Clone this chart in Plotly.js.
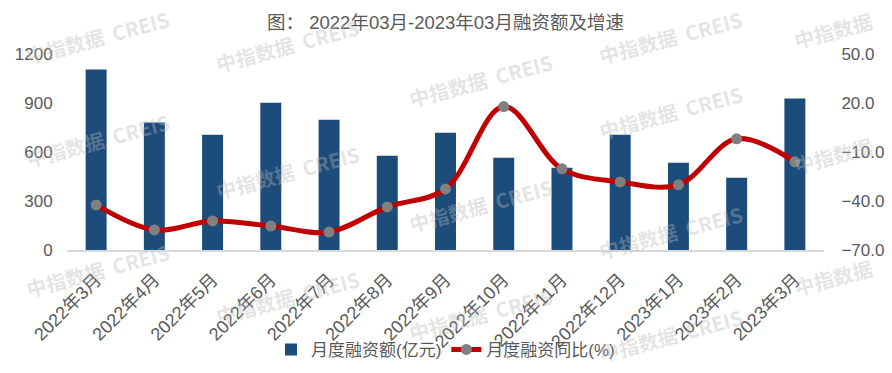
<!DOCTYPE html>
<html>
<head>
<meta charset="utf-8">
<script src="https://cdn.plot.ly/plotly-3.0.1.min.js"></script>
<style>
  html, body { margin: 0; padding: 0; background: #fff; }
  #chart { width: 892px; height: 373px; }
</style>
</head>
<body>
<div id="chart"></div>
<script>
const categories = ["2022年3月","2022年4月","2022年5月","2022年6月","2022年7月","2022年8月","2022年9月","2022年10月","2022年11月","2022年12月","2023年1月","2023年2月","2023年3月"];
const financingAmount = [1105, 780, 706, 902, 798, 577, 718, 565, 503, 706, 534, 442, 927];
const yoyGrowth = [-42.4, -57.7, -52.2, -55.3, -59.0, -43.6, -32.6, 17.8, -20.3, -28.3, -30.1, -1.9, -16.0];
const leftTicks = [0, 300, 600, 900, 1200];
const rightTicks = [-70, -40, -10, 20, 50];

const textColor = "#595959";
const fontFam = "Liberation Sans, Arial, Noto Sans CJK SC, sans-serif";

// background watermark (container pixel centres)
const watermarkFull = "中指数据  CREIS";
const watermarkShort = "中指数据";
const watermarkSpots = [
  [97, 38, watermarkFull], [287, 46, watermarkFull], [480, 80, watermarkFull], [670, 38, watermarkFull], [833, 30, watermarkShort],
  [97, 140, watermarkFull], [287, 172, watermarkFull], [480, 205, watermarkFull], [670, 112, watermarkFull], [833, 155, watermarkShort],
  [97, 270, watermarkFull], [287, 297, watermarkFull], [480, 314, watermarkFull], [670, 232, watermarkFull], [833, 277, watermarkShort],
  [670, 335, watermarkFull]
];

const annotations = watermarkSpots.map(p => ({
  xref: "paper", yref: "paper",
  x: (p[0] - 67) / (892 - 67 - 68),
  y: (250 - p[1]) / (373 - 54 - 123),
  text: "<b>" + p[2] + "</b>",
  showarrow: false,
  textangle: -15,
  font: { family: "Noto Sans CJK SC, sans-serif", size: 20, color: "rgba(185,185,185,0.38)" },
  xanchor: "center", yanchor: "middle"
}));

const traces = [
  {
    type: "bar",
    name: "月度融资额(亿元)",
    x: categories,
    y: financingAmount,
    marker: { color: "#1B4C7A" },
    yaxis: "y"
  },
  {
    type: "scatter",
    mode: "lines+markers",
    name: "月度融资同比(%)",
    x: categories,
    y: yoyGrowth,
    yaxis: "y2",
    line: { color: "#C00000", width: 5, shape: "spline", smoothing: 1 },
    marker: { color: "#808080", size: 11 }
  }
];

const layout = {
  width: 892, height: 373,
  margin: { l: 67, r: 68, t: 54, b: 123 },
  paper_bgcolor: "#ffffff",
  plot_bgcolor: "#ffffff",
  font: { family: fontFam, color: textColor, size: 17 },
  title: {
    text: "图： 2022年03月-2023年03月融资额及增速",
    font: { family: fontFam, size: 18.5, color: textColor },
    xref: "paper", x: 0.5, xanchor: "center",
    yref: "container", y: 0.94, yanchor: "middle"
  },
  bargap: 0.64,
  xaxis: {
    type: "category",
    range: [-0.5, categories.length - 0.5],
    tickangle: -45,
    tickfont: { size: 18, color: textColor },
    showgrid: false, showline: true, linecolor: "#D9D9D9", linewidth: 2,
    ticks: "outside", ticklen: 10, tickcolor: "rgba(0,0,0,0)",
    zeroline: false
  },
  yaxis: {
    range: [0, 1200], tickvals: leftTicks,
    showgrid: false, zeroline: false, showline: false,
    ticks: "outside", ticklen: 10, tickcolor: "rgba(0,0,0,0)",
    tickfont: { size: 17, color: textColor }
  },
  yaxis2: {
    range: [-70, 50], tickvals: rightTicks, tickformat: ".1f",
    overlaying: "y", side: "right",
    showgrid: false, zeroline: false, showline: false,
    ticks: "outside", ticklen: 13, tickcolor: "rgba(0,0,0,0)",
    tickfont: { size: 17, color: textColor }
  },
  showlegend: true,
  legend: {
    orientation: "h", x: 0.5, xanchor: "center",
    yref: "container", y: 0.062, yanchor: "middle",
    font: { size: 17, color: textColor }, bgcolor: "rgba(0,0,0,0)"
  },
  annotations: annotations
};

Plotly.newPlot("chart", traces, layout, { displayModeBar: false, staticPlot: true });
</script>
</body>
</html>
